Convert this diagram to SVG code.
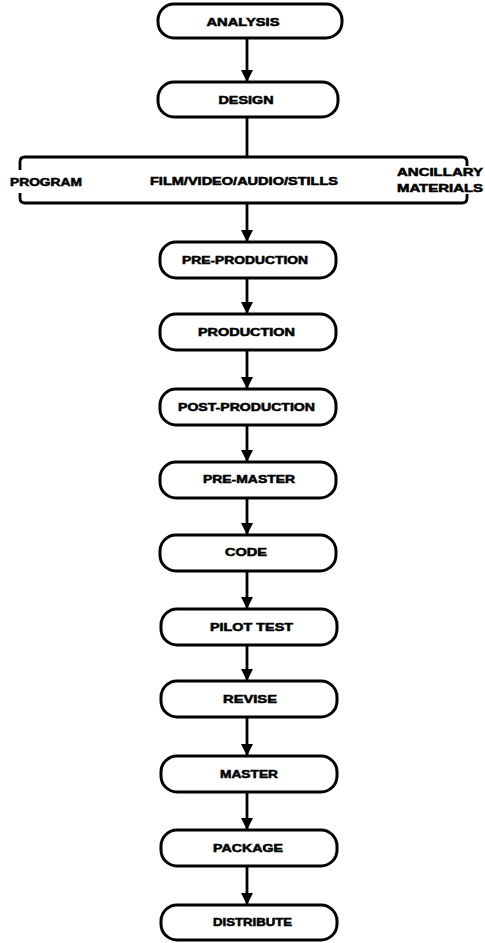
<svg xmlns="http://www.w3.org/2000/svg" width="485" height="943" viewBox="0 0 485 943">
<defs>
<style>
.box{fill:#fff;stroke:#000;stroke-width:3}
.t{font-family:"Liberation Sans",Arial,sans-serif;font-weight:bold;font-size:10px;fill:#000;stroke:#000;stroke-width:0.5;text-anchor:middle}
.tl{font-family:"Liberation Sans",Arial,sans-serif;font-weight:bold;font-size:10px;fill:#000;stroke:#000;stroke-width:0.5}
.c{fill:none;stroke:#000;stroke-width:2.8}
</style>
<marker id="ah" markerUnits="userSpaceOnUse" markerWidth="12" markerHeight="14" refX="12" refY="6" orient="auto" viewBox="0 0 12 12">
<path d="M0,0 L12,6 L0,12 z" fill="#000"/>
</marker>
</defs>
<rect width="485" height="943" fill="#fff"/>
<g id="connectors">
<line class="c" x1="247" y1="38" x2="247" y2="82" marker-end="url(#ah)"/>
<line class="c" x1="247" y1="117" x2="247" y2="157"/>
<path class="c" d="M20 170 L20 162 Q20 157 25 157 L462 157 Q467 157 467 162 L467 166"/>
<path class="c" d="M20 193 L20 198 Q20 203 25 203 L462 203 Q467 203 467 198 L467 194"/>
<line class="c" x1="247" y1="203" x2="247" y2="242" marker-end="url(#ah)"/>
<line class="c" x1="247" y1="278" x2="247" y2="314" marker-end="url(#ah)"/>
<line class="c" x1="247" y1="350" x2="247" y2="389" marker-end="url(#ah)"/>
<line class="c" x1="247" y1="425" x2="247" y2="462" marker-end="url(#ah)"/>
<line class="c" x1="247" y1="498" x2="247" y2="535" marker-end="url(#ah)"/>
<line class="c" x1="247" y1="571" x2="247" y2="609" marker-end="url(#ah)"/>
<line class="c" x1="247" y1="645" x2="247" y2="681" marker-end="url(#ah)"/>
<line class="c" x1="247" y1="717" x2="247" y2="756" marker-end="url(#ah)"/>
<line class="c" x1="247" y1="792" x2="247" y2="830" marker-end="url(#ah)"/>
<line class="c" x1="247" y1="866" x2="247" y2="905" marker-end="url(#ah)"/>
</g>
<g id="analysis"><rect class="box" x="158" y="4" width="184" height="34" rx="16"/><text class="t" x="243" y="25.5" textLength="73" lengthAdjust="spacingAndGlyphs">ANALYSIS</text></g>
<g id="design"><rect class="box" x="158" y="82" width="180" height="35" rx="16"/><text class="t" x="246" y="103.5" textLength="55" lengthAdjust="spacingAndGlyphs">DESIGN</text></g>
<g id="program"><text class="tl" x="10" y="185.5" textLength="72" lengthAdjust="spacingAndGlyphs">PROGRAM</text></g>
<g id="film"><text class="tl" x="150" y="184.5" textLength="188" lengthAdjust="spacingAndGlyphs">FILM/VIDEO/AUDIO/STILLS</text></g>
<g id="ancillary"><text class="tl" x="397" y="176" textLength="86" lengthAdjust="spacingAndGlyphs">ANCILLARY</text><text class="tl" x="397" y="191.5" textLength="86" lengthAdjust="spacingAndGlyphs">MATERIALS</text></g>
<g id="preproduction"><rect class="box" x="160" y="242" width="176" height="36" rx="16"/><text class="t" x="245" y="263.5" textLength="126" lengthAdjust="spacingAndGlyphs">PRE-PRODUCTION</text></g>
<g id="production"><rect class="box" x="160" y="314" width="176" height="36" rx="16"/><text class="t" x="246.5" y="335.5" textLength="97" lengthAdjust="spacingAndGlyphs">PRODUCTION</text></g>
<g id="postproduction"><rect class="box" x="160" y="389" width="176" height="36" rx="16"/><text class="t" x="246.5" y="410.5" textLength="137" lengthAdjust="spacingAndGlyphs">POST-PRODUCTION</text></g>
<g id="premaster"><rect class="box" x="160" y="462" width="176" height="36" rx="16"/><text class="t" x="249" y="483" textLength="92" lengthAdjust="spacingAndGlyphs">PRE-MASTER</text></g>
<g id="code"><rect class="box" x="160" y="535" width="176" height="36" rx="16"/><text class="t" x="246" y="556" textLength="42" lengthAdjust="spacingAndGlyphs">CODE</text></g>
<g id="pilottest"><rect class="box" x="161" y="609" width="176" height="36" rx="16"/><text class="t" x="251.5" y="630.5" textLength="83" lengthAdjust="spacingAndGlyphs">PILOT TEST</text></g>
<g id="revise"><rect class="box" x="161" y="681" width="176" height="36" rx="16"/><text class="t" x="250" y="703" textLength="54" lengthAdjust="spacingAndGlyphs">REVISE</text></g>
<g id="master"><rect class="box" x="161" y="756" width="176" height="36" rx="16"/><text class="t" x="249" y="778" textLength="58" lengthAdjust="spacingAndGlyphs">MASTER</text></g>
<g id="package"><rect class="box" x="161" y="830" width="176" height="36" rx="16"/><text class="t" x="248" y="851.5" textLength="70" lengthAdjust="spacingAndGlyphs">PACKAGE</text></g>
<g id="distribute"><rect class="box" x="161" y="905" width="176" height="35" rx="16"/><text class="t" x="252.5" y="926" textLength="79" lengthAdjust="spacingAndGlyphs">DISTRIBUTE</text></g>
</svg>
